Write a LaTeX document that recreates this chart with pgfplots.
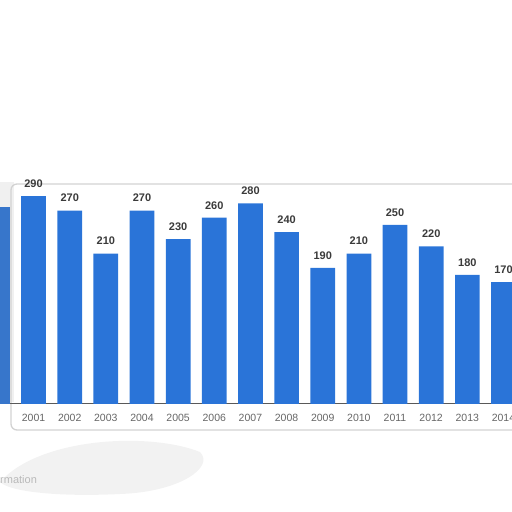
\documentclass[border=0pt]{standalone}
\usepackage{fontspec}
\setmainfont{Liberation Sans}
\usepackage{pgfplots}
\pgfplotsset{compat=1.18}
\definecolor{barblue}{HTML}{2A74D8}
\definecolor{lblgray}{HTML}{3A3A3A}
\definecolor{tickgray}{HTML}{666666}
\begin{document}
\begin{tikzpicture}[x=1pt,y=1pt]
\useasboundingbox (0,0) rectangle (512,512);
% soft card and smudges behind the chart
\fill[gray!10] (0,30) .. controls (40,75) and (150,80) .. (200,60)
  .. controls (215,45) and (180,20) .. (120,18) .. controls (60,15) and (10,20) .. (0,30) -- cycle;
\fill[gray!12] (0,110) rectangle (14,330);
\draw[gray!35, line width=1.3pt, rounded corners=6pt] (11,82) rectangle (520,328);
\node[anchor=west, inner sep=0pt, text=gray!55, font=\fontsize{11}{12}\selectfont] at (0,32) {rmation};
\begin{axis}[
  name=ax,
  at={(0,151)}, anchor=south west,
  scale only axis,
  width=512pt, height=218.4pt,
  ybar, bar width=24.7pt, bar shift=0pt,
  xmin=2000.072, xmax=2014.235,
  ymin=0, ymax=305,
  axis x line*=bottom, axis y line=none,
  x axis line style={draw=gray!70!black, line width=0.8pt, -},
  xtick={2000,...,2014},
  xticklabel style={text=tickgray, font=\fontsize{10.5}{12}\selectfont, yshift=-7pt},
  /pgf/number format/assume math mode=true,
  /pgf/number format/1000 sep={},
  major tick length=0pt,
  ytick={100,200},
  ymajorgrids,
  grid style={gray!35, densely dotted},
  nodes near coords,
  nodes near coords style={text=lblgray, font=\bfseries\fontsize{11}{12}\selectfont, yshift=5pt},
  /pgf/number format/fixed,
]
\addplot[fill=barblue!85!gray, draw=none, nodes near coords=] coordinates {(2000,275)};
\addplot[fill=barblue, draw=none] coordinates {
  (2001,290) (2002,270) (2003,210) (2004,270) (2005,230) (2006,260) (2007,280)
  (2008,240) (2009,190) (2010,210) (2011,250) (2012,220) (2013,180) (2014,170)};
\end{axis}
\end{tikzpicture}
\end{document}
